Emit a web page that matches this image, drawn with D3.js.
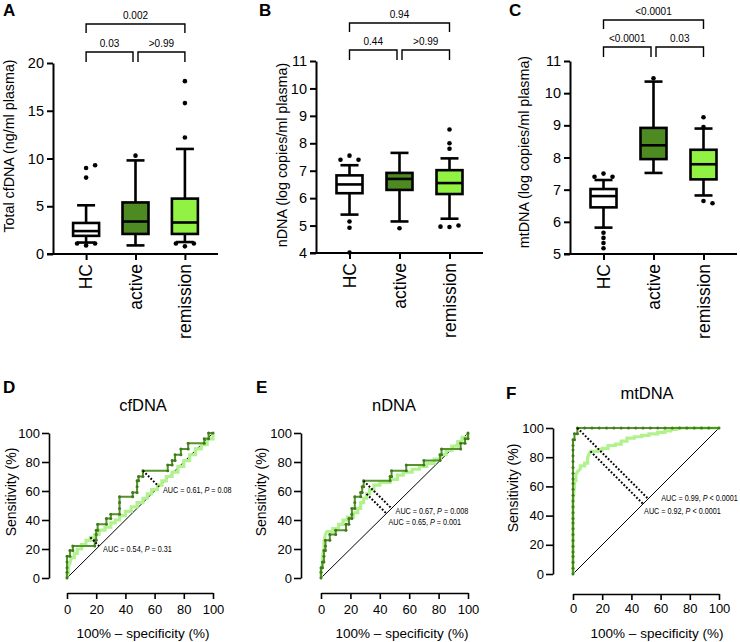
<!DOCTYPE html>
<html>
<head>
<meta charset="utf-8">
<script src="https://cdn.jsdelivr.net/npm/d3@7"></script>
<style>
  body { margin: 0; background: #fff; }
  svg { font-family: "Liberation Sans", Arial, sans-serif; }
  .axis path, .axis line { stroke: #000; }
  .axis text { fill: #000; }
</style>
</head>
<body>
<svg id="fig" width="740" height="642"></svg>
<script>
// ---- data ----
var groups = ["HC", "active", "remission"];

// box stats: [low whisker, Q1, median, Q3, high whisker]
var cfdnaBoxes = [[1.2, 1.9, 2.4, 3.25, 5.1], [0.9, 2.1, 3.4, 5.4, 9.8], [1.25, 2.1, 3.3, 5.8, 11.0]];
var cfdnaOutliers = [[8.0, 9.0, 9.3, 0.9, 1.1, 1.1], [10.3], [12.2, 15.8, 18.1, 0.8, 1.1, 1.1]];
var cfdnaTicks = [0, 5, 10, 15, 20];
var cfdnaPvals = ["0.03", ">0.99", "0.002"];

var ndnaBoxes = [[5.4, 6.18, 6.5, 6.83, 7.2], [5.15, 6.3, 6.7, 6.92, 7.65], [5.25, 6.15, 6.55, 7.02, 7.45]];
var ndnaOutliers = [[7.55, 7.4, 7.4, 5.15, 4.92, 4.02], [4.9], [7.8, 8.0, 8.5, 4.95, 5.0, 4.96]];
var ndnaTicks = [4, 5, 6, 7, 8, 9, 10, 11];
var ndnaPvals = ["0.44", ">0.99", "0.94"];

var mtdnaBoxes = [[5.82, 6.45, 6.8, 7.02, 7.3], [7.52, 7.95, 8.38, 8.92, 10.36], [6.82, 7.32, 7.79, 8.24, 8.9]];
var mtdnaOutliers = [[7.5, 7.4, 7.4, 5.66, 5.5, 5.34, 5.18], [10.46], [9.25, 8.95, 6.65, 6.58]];
var mtdnaTicks = [5, 6, 7, 8, 9, 10, 11];
var mtdnaPvals = ["<0.0001", "0.03", "<0.0001"];

// ROC curves: [100% - specificity, sensitivity]
var rocTicks = [0, 20, 40, 60, 80, 100];

var cfdnaRocActive = [[0,0],[0,4],[0,7],[0,11],[0,15],[2,15],[2,19],[4,19],[4,22],[19,22],[19,26],[20,26],[20,30],[20,33],[21,33],[21,37],[27,37],[27,41],[30,41],[30,44],[36,44],[36,48],[36,52],[36,56],[45,56],[45,59],[48,59],[48,63],[48,67],[49,67],[49,70],[52,70],[52,74],[69,74],[69,78],[72,78],[72,81],[74,81],[74,85],[78,85],[78,89],[83,89],[83,93],[94,93],[94,96],[97,96],[97,100],[100,100]];
var cfdnaRocRemission = [[0,0],[0,3],[1,3],[1,8],[2,10],[3,14],[5,14],[5,17],[7,17],[7,20],[10,20],[10,23],[13,23],[13,26],[16,26],[16,28],[19,28],[19,30],[22,30],[22,33],[26,33],[26,35],[30,35],[30,38],[33,38],[33,40],[36,40],[36,43],[40,43],[40,46],[44,46],[44,49],[48,49],[48,52],[52,52],[52,55],[55,55],[55,58],[58,58],[58,61],[62,61],[62,64],[65,64],[65,67],[68,67],[68,70],[72,70],[72,73],[76,73],[76,77],[80,77],[80,81],[84,81],[84,85],[88,85],[88,89],[92,89],[92,92],[96,92],[96,96],[100,96],[100,100]];
var cfdnaCutoffs = [[52, 74], [16, 28]];
var cfdnaAuc = [["0.61", "=", "0.08"], ["0.54", "=", "0.31"]];

var ndnaRocActive = [[0,0],[0,4],[0,7],[1,7],[1,11],[2,11],[2,15],[2,19],[3,19],[3,22],[3,26],[6,26],[6,30],[10,30],[10,33],[17,33],[17,37],[19,37],[19,41],[21,41],[21,44],[21,48],[23,48],[23,52],[23,56],[27,56],[27,59],[28,59],[28,63],[29,63],[29,67],[47,67],[47,70],[48,70],[48,74],[58,74],[58,78],[70,78],[70,81],[81,81],[81,85],[82,85],[82,89],[95,89],[95,93],[98,93],[98,96],[100,96],[100,100]];
var ndnaRocRemission = [[0,0],[0,5],[1,10],[1,15],[2,20],[2,25],[3,30],[4,32],[8,32],[8,34],[12,34],[12,37],[15,37],[15,40],[18,40],[18,42],[22,42],[22,45],[25,45],[25,48],[27,48],[27,52],[29,52],[29,55],[31,55],[31,58],[33,58],[33,61],[36,61],[36,64],[40,64],[40,66],[47,66],[47,68],[52,68],[52,71],[56,71],[56,73],[62,73],[62,75],[67,75],[67,77],[72,77],[72,79],[77,79],[77,82],[81,82],[81,85],[85,85],[85,88],[89,88],[89,91],[93,91],[93,94],[96,94],[96,97],[100,97],[100,100]];
var ndnaCutoffs = [[29, 67], [31, 58]];
var ndnaAuc = [["0.67", "=", "0.008"], ["0.65", "=", "0.001"]];

var mtdnaRocActive = [[0,0],[0,4],[0,8],[0,12],[0,15],[0,19],[0,23],[0,27],[0,31],[0,35],[0,38],[0,42],[0,46],[0,50],[0,54],[0,58],[0,62],[0,65],[0,69],[0,73],[0,77],[0,81],[0,85],[0,88],[0,92],[1,92],[1,96],[3,96],[3,100],[8,100],[13,100],[18,100],[23,100],[28,100],[33,100],[38,100],[43,100],[48,100],[53,100],[58,100],[63,100],[68,100],[73,100],[78,100],[83,100],[88,100],[93,100],[100,100]];
var mtdnaRocRemission = [[0,0],[0,30],[0,50],[1,60],[1,64],[2,64],[2,68],[3,70],[5,72],[5,74],[8,74],[8,76],[10,76],[10,80],[11,82],[12,84],[17,84],[17,85],[20,85],[20,86],[24,86],[24,88],[29,88],[29,89],[33,89],[33,91],[37,91],[37,93],[42,93],[42,94],[47,94],[47,95],[52,95],[52,96],[58,96],[58,97],[63,97],[63,98],[67,98],[67,99],[71,99],[71,100],[100,100]];
var mtdnaCutoffs = [[3, 100], [12, 84]];
var mtdnaAuc = [["0.99", "<", "0.0001"], ["0.92", "<", "0.0001"]];

// ---- drawing ----
var svg = d3.select("#fig");
var dark = "#4e8a22", bright = "#92f244";
var rocDark = "#55932c", rocLight = "#b2f28e";
var fills = ["#ffffff", dark, bright];

function panelLetter(t, x, y) {
  svg.append("text").attr("x", x).attr("y", y).attr("font-size", 17).attr("font-weight", "bold").text(t);
}

function boxPanel(cfg) {
  var g = svg.append("g");
  var x = d3.scalePoint().domain(groups).range([cfg.left, cfg.right]).padding(0.67);
  var y = d3.scaleLinear().domain(cfg.domain).range([cfg.bottom, cfg.top]);

  var ya = g.append("g").attr("class", "axis").attr("transform", "translate(" + cfg.left + ",0)")
    .call(d3.axisLeft(y).tickValues(cfg.ticks).tickFormat(d3.format("d")).tickSize(6).tickSizeOuter(0).tickPadding(3));
  ya.selectAll("path, line").attr("stroke-width", 2);
  ya.selectAll("text").attr("font-size", 14.5).attr("font-family", null);

  var xa = g.append("g").attr("class", "axis").attr("transform", "translate(0," + cfg.bottom + ")")
    .call(d3.axisBottom(x).tickSize(6).tickSizeOuter(0).tickFormat(""));
  xa.selectAll("path, line").attr("stroke-width", 2);
  xa.select("path").attr("d", "M" + (cfg.left - 6) + ",0H" + cfg.right);

  g.selectAll(".cat").data(groups).enter().append("text")
    .attr("transform", function (d) { return "translate(" + x(d) + "," + (cfg.bottom + 10) + ") rotate(-90)"; })
    .attr("text-anchor", "end").attr("dy", "0.36em").attr("font-size", 17.5).text(function (d) { return d; });

  g.append("text")
    .attr("transform", "translate(" + cfg.titleX + "," + cfg.titleY + ") rotate(-90)")
    .attr("text-anchor", "middle").attr("font-size", 14.3).text(cfg.title);

  var bw = 26, cw = 18;
  cfg.boxes.forEach(function (b, i) {
    var cx = x(groups[i]);
    var bg = g.append("g").attr("stroke", "#000").attr("stroke-width", 2.6);
    bg.append("line").attr("x1", cx).attr("x2", cx).attr("y1", y(b[0])).attr("y2", y(b[1]));
    bg.append("line").attr("x1", cx).attr("x2", cx).attr("y1", y(b[3])).attr("y2", y(b[4]));
    bg.append("line").attr("x1", cx - cw / 2).attr("x2", cx + cw / 2).attr("y1", y(b[0])).attr("y2", y(b[0]));
    bg.append("line").attr("x1", cx - cw / 2).attr("x2", cx + cw / 2).attr("y1", y(b[4])).attr("y2", y(b[4]));
    bg.append("rect").attr("x", cx - bw / 2).attr("width", bw).attr("y", y(b[3])).attr("height", y(b[1]) - y(b[3]))
      .attr("fill", fills[i]);
    bg.append("line").attr("x1", cx - bw / 2).attr("x2", cx + bw / 2).attr("y1", y(b[2])).attr("y2", y(b[2]));

    // outliers, spread sideways when they overlap
    var placed = [];
    cfg.outliers[i].forEach(function (v) {
      var py = y(v), offs = [0, 9, -9, 18, -18], off = 0;
      for (var k = 0; k < offs.length; k++) {
        var ok = placed.every(function (p) { return Math.hypot(p[0] - offs[k], p[1] - py) > 4.6; });
        if (ok) { off = offs[k]; break; }
      }
      placed.push([off, py]);
      g.append("circle").attr("cx", cx + off).attr("cy", py).attr("r", 2.3).attr("fill", "#000");
    });
  });

  // significance brackets
  function bracket(x1, x2, yl, ye, label) {
    g.append("path").attr("d", "M" + x1 + "," + ye + "V" + yl + "H" + x2 + "V" + ye)
      .attr("fill", "none").attr("stroke", "#000").attr("stroke-width", 1.4);
    g.append("text").attr("x", (x1 + x2) / 2).attr("y", yl - 5).attr("text-anchor", "middle")
      .attr("font-size", 10).text(label);
  }
  var xa0 = x(groups[0]), xa1 = x(groups[1]), xa2 = x(groups[2]);
  bracket(xa0, xa1 - 2.5, cfg.low[0], cfg.low[1], cfg.pvals[0]);
  bracket(xa1 + 2.5, xa2, cfg.low[0], cfg.low[1], cfg.pvals[1]);
  bracket(xa0, xa2, cfg.high[0], cfg.high[1], cfg.pvals[2]);
}

function rocPanel(cfg) {
  var g = svg.append("g");
  var x = d3.scaleLinear().domain([0, 100]).range([cfg.x0, cfg.x1]);
  var y = d3.scaleLinear().domain([0, 100]).range([cfg.y0, cfg.y1]);

  var ya = g.append("g").attr("class", "axis").attr("transform", "translate(" + cfg.axisX + ",0)")
    .call(d3.axisLeft(y).tickValues(rocTicks).tickSize(7).tickSizeOuter(0).tickPadding(2));
  ya.selectAll("path, line").attr("stroke-width", 1.6);
  ya.selectAll("text").attr("font-size", 13).attr("font-family", null);

  var xa = g.append("g").attr("class", "axis").attr("transform", "translate(0," + cfg.axisY + ")")
    .call(d3.axisBottom(x).tickValues(rocTicks).tickSize(6).tickSizeOuter(0).tickPadding(cfg.xPad));
  xa.selectAll("path, line").attr("stroke-width", 1.6);
  xa.selectAll("text").attr("font-size", 13).attr("font-family", null);

  g.append("text").attr("x", cfg.xTitleX).attr("y", cfg.xTitleY).attr("text-anchor", "middle")
    .attr("font-size", 13.5).text("100% \u2013 specificity (%)");
  g.append("text").attr("transform", "translate(" + cfg.yTitleX + "," + cfg.yTitleY + ") rotate(-90)")
    .attr("text-anchor", "middle").attr("font-size", 14).text("Sensitivity (%)");
  g.append("text").attr("x", cfg.headX).attr("y", cfg.headY).attr("text-anchor", "middle")
    .attr("font-size", 16.5).text(cfg.head);

  var line = d3.line().x(function (d) { return x(d[0]); }).y(function (d) { return y(d[1]); });
  g.append("path").attr("d", line([[0, 0], [100, 100]])).attr("stroke", "#000").attr("stroke-width", 1).attr("fill", "none");
  g.append("path").attr("d", line(cfg.light)).attr("stroke", rocLight).attr("stroke-width", 3.2)
    .attr("fill", "none").attr("stroke-linejoin", "miter");
  g.append("path").attr("d", line(cfg.dark)).attr("stroke", rocDark).attr("stroke-width", 2)
    .attr("fill", "none");
  g.selectAll(".mk").data(cfg.dark).enter().append("circle")
    .attr("cx", function (d) { return x(d[0]); }).attr("cy", function (d) { return y(d[1]); })
    .attr("r", 1.5).attr("fill", "#3f7a1c");

  // cutoff markers: dotted line from the chosen point to the diagonal
  cfg.cutoffs.forEach(function (c, i) {
    var f = (c[0] + c[1]) / 2;
    g.append("path").attr("d", line([c, [f, f]])).attr("stroke", "#000").attr("stroke-width", 2)
      .attr("stroke-dasharray", "1.8,1.8").attr("fill", "none");
    var a = cfg.auc[i], o = cfg.labelOff[i];
    var t = g.append("text")
      .attr("transform", "translate(" + (x(f) + o[0]) + "," + (y(f) + o[1]) + ") scale(0.84,1)")
      .attr("font-size", 8.6);
    t.append("tspan").text("AUC = " + a[0] + ", ");
    t.append("tspan").attr("font-style", "italic").text("P");
    t.append("tspan").text(" " + a[1] + " " + a[2]);
  });
}

panelLetter("A", 3, 16);
panelLetter("B", 259, 16);
panelLetter("C", 509, 16);
panelLetter("D", 3, 393);
panelLetter("E", 256, 393);
panelLetter("F", 506, 399);

boxPanel({ left: 53, right: 218, top: 63, bottom: 254, domain: [0, 20], ticks: cfdnaTicks,
  boxes: cfdnaBoxes, outliers: cfdnaOutliers, pvals: cfdnaPvals,
  title: "Total cfDNA (ng/ml plasma)", titleX: 14, titleY: 146, high: [24, 33], low: [52, 62] });
boxPanel({ left: 316, right: 483, top: 61, bottom: 253, domain: [4, 11], ticks: ndnaTicks,
  boxes: ndnaBoxes, outliers: ndnaOutliers, pvals: ndnaPvals,
  title: "nDNA (log copies/ml plasma)", titleX: 287, titleY: 155, high: [23, 32], low: [50, 60] });
boxPanel({ left: 570, right: 737, top: 61, bottom: 254, domain: [5, 11], ticks: mtdnaTicks,
  boxes: mtdnaBoxes, outliers: mtdnaOutliers, pvals: mtdnaPvals,
  title: "mtDNA (log copies/ml plasma)", titleX: 529, titleY: 152, high: [20, 29], low: [47, 57] });

rocPanel({ x0: 67, x1: 213, y0: 578, y1: 433, axisX: 49, axisY: 593, xPad: 6,
  xTitleX: 143, xTitleY: 638, yTitleX: 16, yTitleY: 492, headX: 143, headY: 411, head: "cfDNA",
  dark: cfdnaRocActive, light: cfdnaRocRemission, cutoffs: cfdnaCutoffs, auc: cfdnaAuc,
  labelOff: [[4, 6], [4, 6]] });
rocPanel({ x0: 321, x1: 468, y0: 578, y1: 433, axisX: 301, axisY: 593, xPad: 6,
  xTitleX: 402, xTitleY: 638, yTitleX: 266, yTitleY: 492, headX: 394, headY: 411, head: "nDNA",
  dark: ndnaRocActive, light: ndnaRocRemission, cutoffs: ndnaCutoffs, auc: ndnaAuc,
  labelOff: [[4, 6], [2, 12]] });
rocPanel({ x0: 573, x1: 719, y0: 574, y1: 428, axisX: 553, axisY: 594, xPad: 4,
  xTitleX: 657, xTitleY: 638, yTitleX: 518, yTitleY: 488, headX: 647, headY: 399, head: "mtDNA",
  dark: mtdnaRocActive, light: mtdnaRocRemission, cutoffs: mtdnaCutoffs, auc: mtdnaAuc,
  labelOff: [[13, 2], [1, 10]] });
</script>
</body>
</html>
